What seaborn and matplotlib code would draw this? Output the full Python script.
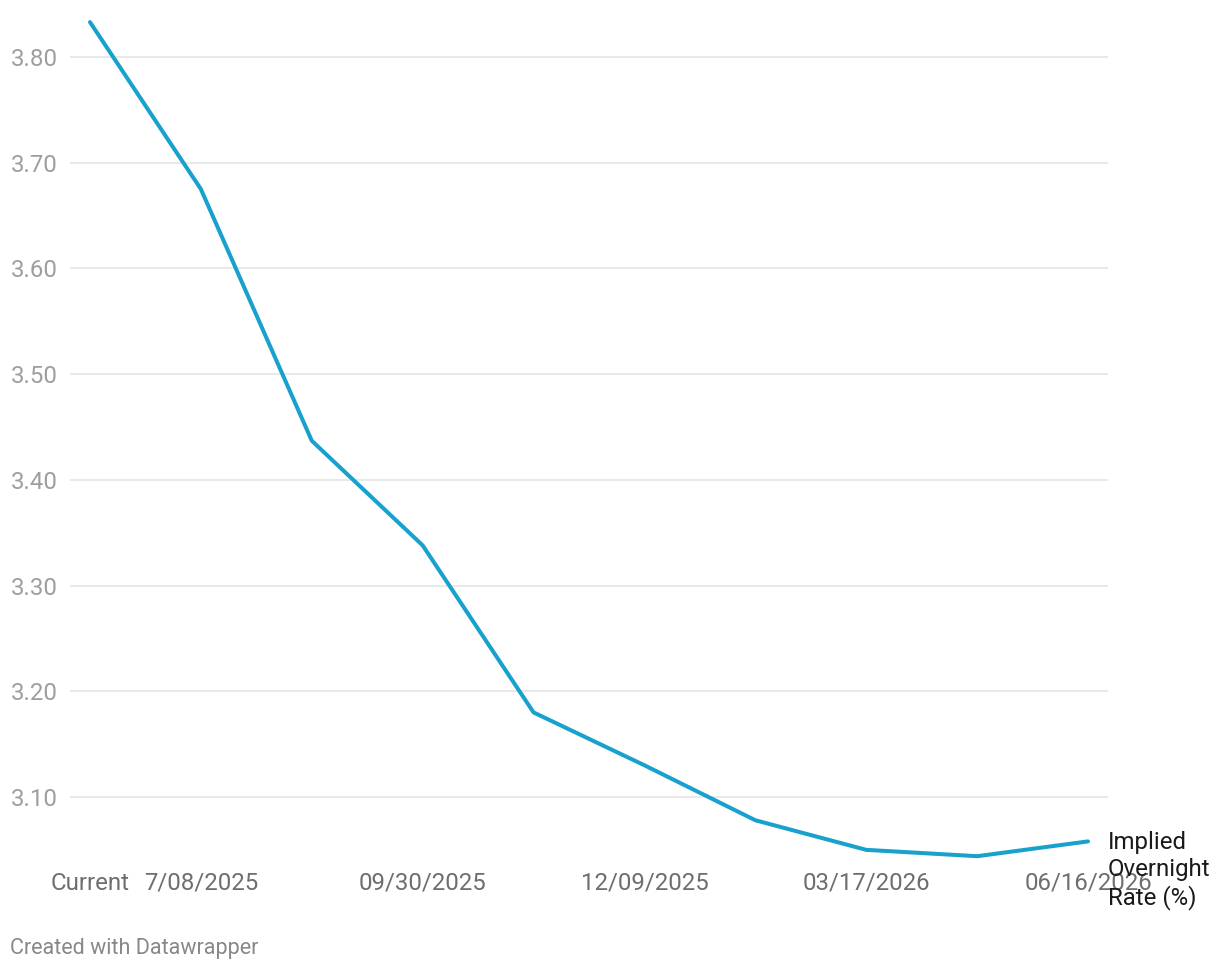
import numpy as np
import pandas as pd
import matplotlib.pyplot as plt
import seaborn as sns

# datos (tasa implícita overnight, %)
meetings = ["Current", "7/08/2025", "", "09/30/2025", "", "12/09/2025",
            "", "03/17/2026", "", "06/16/2026"]
rates = [3.833, 3.675, 3.437, 3.338, 3.180, 3.130, 3.078, 3.050, 3.044, 3.058]
y_ticks = [3.10, 3.20, 3.30, 3.40, 3.50, 3.60, 3.70, 3.80]
series_label = "Implied\nOvernight\nRate (%)"

df = pd.DataFrame({"step": np.arange(len(rates)), "rate": rates})

sns.set_theme(style="white")
plt.rcParams['font.family'] = ['Roboto', 'DejaVu Sans']

W, H = 1220, 972
fig = plt.figure(figsize=(W / 100, H / 100), dpi=100)
# posición de los ejes en píxeles
left, right, top, bottom = 70, 1108, 10, 865
ax = fig.add_axes([left / W, 1 - bottom / H, (right - left) / W, (bottom - top) / H])

sns.lineplot(data=df, x="step", y="rate", ax=ax, color="#18a1cd", linewidth=2.9)

ax.set_xlim(-20 / 110.9, 9 + 20 / 110.9)
ax.set_ylim(3.10 - 68 / 1057.1, 3.80 + 47 / 1057.1)

ax.set_yticks(y_ticks)
ax.set_yticklabels([f"{v:.2f}" for v in y_ticks])
ax.yaxis.grid(True, color="#e3e3e3", linewidth=1.1)
ax.set_axisbelow(True)

tick_pos = [i for i, lab in enumerate(meetings) if lab]
ax.set_xticks(tick_pos)
ax.set_xticklabels([meetings[i] for i in tick_pos])

ax.tick_params(axis="y", length=0, pad=9, labelsize=17.3, labelcolor="#9e9e9e")
ax.tick_params(axis="x", length=0, pad=5, labelsize=17.3, labelcolor="#6e6e6e")
for s in ax.spines.values():
    s.set_visible(False)
ax.set_xlabel("")
ax.set_ylabel("")

ax.annotate(series_label, xy=(9, rates[-1]), xytext=(20, 10),
            textcoords="offset pixels", ha="left", va="top",
            fontsize=17.3, color="#1a1a1a", linespacing=1.2,
            annotation_clip=False)

fig.text(10 / W, 1 - 948 / H, "Created with Datawrapper", ha="left", va="center",
         fontsize=15.5, color="#888888")

fig.savefig("out.png", dpi=100)
